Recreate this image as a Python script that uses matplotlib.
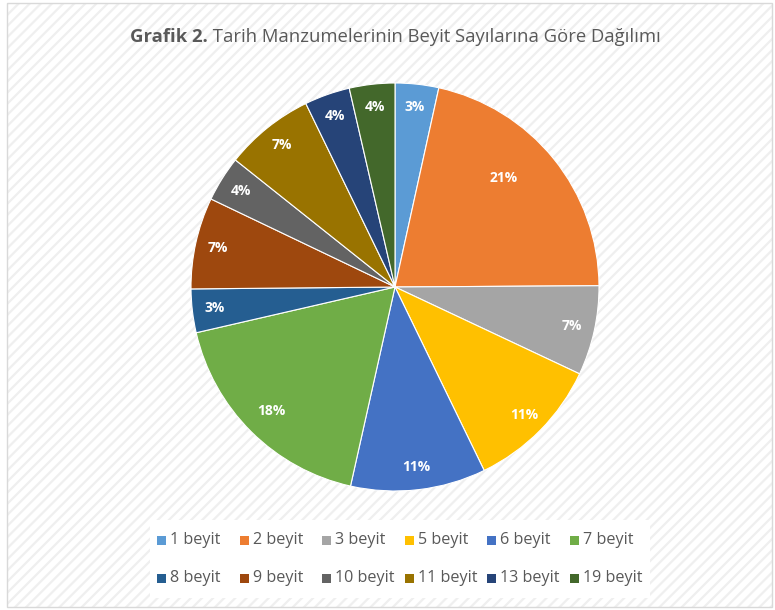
import matplotlib
matplotlib.use("Agg")
import matplotlib.pyplot as plt
from matplotlib.patches import Rectangle
import numpy as np

categories = ["1 beyit", "2 beyit", "3 beyit", "5 beyit", "6 beyit", "7 beyit",
              "8 beyit", "9 beyit", "10 beyit", "11 beyit", "13 beyit", "19 beyit"]
values = [3.45, 21.45, 7.1, 10.8, 10.7, 17.9, 3.45, 7.25, 3.6, 7.1, 3.6, 3.6]
colors = ["#5B9BD5", "#ED7D31", "#A5A5A5", "#FFC000", "#4472C4", "#70AD47",
          "#255E91", "#9E480E", "#636363", "#997300", "#264478", "#43682B"]
title_bold = "Grafik 2."
title_rest = " Tarih Manzumelerinin Beyit Sayılarına Göre Dağılımı"

W, H = 775, 610
plt.rcParams['font.family'] = ['Open Sans', 'DejaVu Sans']
plt.rcParams['hatch.linewidth'] = 1.6
fig = plt.figure(figsize=(W / 100, H / 100), dpi=100)
fig.patch.set_facecolor("white")

# background pattern + border
bg = Rectangle((7 / W, 3 / H), (772 - 7) / W, (607 - 3) / H, transform=fig.transFigure,
               facecolor="white", edgecolor="#efefef", hatch="///", linewidth=0, zorder=0)
fig.add_artist(bg)
border = Rectangle((7 / W, 3 / H), (772 - 7) / W, (607 - 3) / H, transform=fig.transFigure,
                   facecolor="none", edgecolor="#d9d9d9", linewidth=1.0, zorder=1)
fig.add_artist(border)

cx, cy, r = 395, 287, 204
ax = fig.add_axes([(cx - r) / W, (H - cy - r) / H, 2 * r / W, 2 * r / H])
ax.set_zorder(2)
wedges, texts, autotexts = ax.pie(values, colors=colors, startangle=90, counterclock=False,
                                  autopct=lambda p: f"{p:.0f}%", pctdistance=0.89,
                                  wedgeprops=dict(edgecolor="white", linewidth=0.8),
                                  textprops=dict(color="white", fontsize=10, fontweight="bold"))
ax.set_xlim(-1, 1)
ax.set_ylim(-1, 1)
ax.axis("off")
for i, t in enumerate(autotexts):
    x, y = t.get_position()
    d = np.hypot(x, y)
    if values[i] > 20:
        th = np.arctan2(y, x) + np.deg2rad(6)
        t.set_position((0.755 * np.cos(th), 0.755 * np.sin(th)))
    elif values[i] > 15:
        t.set_position((x / d * 0.86, y / d * 0.86))

# legend panel (manual, Excel-style uniform columns)
panel = Rectangle((150 / W, (H - 598) / H), (650 - 150) / W, (598 - 520) / H,
                  transform=fig.transFigure, facecolor="white", edgecolor="none", zorder=1.5)
fig.add_artist(panel)
ncol = 6
x0, dx = 157, 82.6
rows_y = [540, 578]
sq = 9
for i, (lab, c) in enumerate(zip(categories, colors)):
    row, col = divmod(i, ncol)
    xm = x0 + col * dx
    ym = rows_y[row]
    fig.add_artist(Rectangle((xm / W, (H - ym - sq / 2) / H), sq / W, sq / H,
                             transform=fig.transFigure, facecolor=c, edgecolor="none", zorder=3))
    fig.text((xm + sq + 4) / W, (H - ym) / H, lab, fontsize=11.6, color="#595959",
             va="center", ha="left", zorder=3)

# title
t1 = fig.text(0, (H - 37) / H, title_bold, fontsize=13.3, fontweight="bold", color="#595959",
              va="center", ha="left")
t2 = fig.text(0, (H - 37) / H, title_rest, fontsize=13.3, color="#595959",
              va="center", ha="left")
fig.canvas.draw()
rend = fig.canvas.get_renderer()
w1 = t1.get_window_extent(rend).width
w2 = t2.get_window_extent(rend).width
start = 395 - (w1 + w2) / 2
t1.set_x(start / W)
t2.set_x((start + w1) / W)

fig.savefig("out.png", dpi=100, facecolor="white")
